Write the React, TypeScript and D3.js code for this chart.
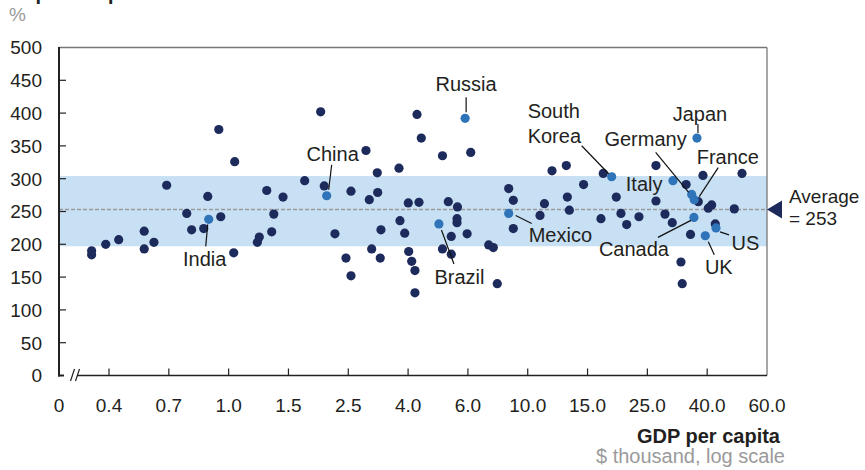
import React from "react";
import * as d3 from "d3";

// ---------- data ----------
const xTickValues = [0.4, 0.7, 1.0, 1.5, 2.5, 4.0, 6.0, 10.0, 15.0, 25.0, 40.0, 60.0];
const xTickLabels = ["0.4", "0.7", "1.0", "1.5", "2.5", "4.0", "6.0", "10.0", "15.0", "25.0", "40.0", "60.0"];
const yTickValues = [0, 50, 100, 150, 200, 250, 300, 350, 400, 450, 500];

// other countries: GDP per capita ($ thousand) and ratio (%)
const otherGdp = [
  0.34, 0.34, 0.388, 0.438, 0.556, 0.556, 0.609, 0.686, 0.779, 0.802, 0.862, 0.883, 0.954, 0.943, 1.042, 1.035,
  1.215, 1.231, 1.295, 1.339, 1.358, 1.446,
  1.723, 1.975, 2.036, 2.231, 2.451,
  2.554, 2.554, 2.873, 2.949, 3.005, 3.14, 3.15, 3.214, 3.232, 3.724, 3.753, 3.895,
  4.005, 4.016, 4.099, 4.19, 4.19, 4.249, 4.307, 4.374,
  5.05, 5.05, 5.253, 5.36, 5.36, 5.573, 5.573, 5.59, 5.968,
  6.146, 7.166, 7.454, 7.71, 8.5, 8.84, 8.84,
  10.87, 11.2, 11.79, 12.99, 13.08, 13.26, 14.6,
  16.82, 17.15, 19.17, 19.95, 20.95, 23.27,
  26.75, 26.75, 28.71, 30.4, 32.55, 32.88, 33.9, 35.09, 37.3, 38.7,
  40.3, 41.24, 42.26, 48.07, 50.65,
];
const otherRatio = [
  190, 184, 200, 207, 220, 193, 203, 290, 247, 222, 224, 273, 242, 375, 326, 187,
  203, 211, 282, 219, 246, 272,
  297, 402, 289, 216, 179,
  281, 152, 343, 268, 193, 309, 279, 179, 222, 316, 236, 217,
  263, 189, 174, 160, 126, 398, 264, 362,
  335, 193, 265, 212, 185, 239, 233, 257, 216,
  340, 199, 195, 140, 285, 267, 224,
  244, 262, 312, 320, 272, 252, 291,
  239, 308, 272, 247, 230, 242,
  320, 266, 246, 233, 173, 140, 291, 215, 265, 305,
  255, 260, 231, 254, 308,
];

// highlighted countries
const keyNames = ["India", "China", "Russia", "Brazil", "Mexico", "South Korea", "Italy", "Germany", "France", "Japan", "Canada", "UK", "US"];
const keyGdp = [0.888, 2.079, 5.888, 4.93, 8.5, 18.43, 30.57, 35.41, 36.13, 36.91, 36.05, 39.41, 42.46];
const keyRatio = [238, 274, 392, 231, 247, 303, 297, 276, 268, 362, 241, 213, 225];

const average = 253;
const bandLow = 197;
const bandHigh = 304;

// ---------- layout / styles ----------
const W = 865;
const H = 470;
const left = 59;
const right = 767;
const top = 47.5;
const bottom = 375.5;
const firstTick = 109;
const FONT = "'Liberation Sans', Arial, Helvetica, sans-serif";
const DARK = "#1c2a5c";
const BLUE = "#2f73b8";
const BAND = "#c8e0f4";
const TEXT = "#231f20";
const GREY = "#9a9a9a";

// label placement relative to each highlighted dot: [textDx, textDy, anchor, leader(x1,y1,x2,y2) or null]
type Ann = { dx: number; dy: number; anchor: string; lines?: string[]; leader: number[] | null };
const annotations: Record<string, Ann> = {
  India: { dx: -4, dy: 47, anchor: "middle", leader: [-1, 5, -3, 27] },
  China: { dx: 6, dy: -35, anchor: "middle", leader: [5, -31, 2, -6] },
  Russia: { dx: 1, dy: -27, anchor: "middle", leader: [1, -21, 1, -6] },
  Brazil: { dx: 20.5, dy: 60, anchor: "middle", leader: [2.5, 6, 15, 40] },
  Mexico: { dx: 20, dy: 29, anchor: "start", leader: [7, 2, 23, 10] },
  "South Korea": { dx: -84, dy: -59, anchor: "start", lines: ["South", "Korea"], leader: [-30, -31, -3, -3] },
  Italy: { dx: -10.5, dy: 10.5, anchor: "end", leader: null },
  Germany: { dx: -5, dy: -48, anchor: "end", leader: [-36, -42, -3, -2] },
  France: { dx: 2.5, dy: -35.5, anchor: "start", leader: [24, -32, 5, -3] },
  Japan: { dx: 3, dy: -17, anchor: "middle", leader: [1, -14, 1, -5] },
  Canada: { dx: -25, dy: 39, anchor: "end", leader: [-36, 20, -3, 3] },
  UK: { dx: 13.5, dy: 38, anchor: "middle", leader: [3, 6, 9, 19] },
  US: { dx: 15.5, dy: 22, anchor: "start", leader: [4, 4, 13, 7] },
};

export default function App() {
  const x = d3
    .scaleLog()
    .domain(xTickValues)
    .range(xTickValues.map((_, i) => firstTick + (i * (right - firstTick)) / (xTickValues.length - 1)));
  const y = d3.scaleLinear().domain([0, 500]).range([bottom, top]);

  const others = otherGdp.map((g, i) => ({ g, r: otherRatio[i] }));
  const keys = keyNames.map((n, i) => ({ n, g: keyGdp[i], r: keyRatio[i] }));

  return (
    <svg
      width={W}
      height={H}
      style={{ position: "absolute", left: 0, top: 0, fontFamily: FONT }}
    >
      <rect x={0} y={0} width={W} height={H} fill="#fff" />
      {/* clipped title */}
      <text x={10} y={-0.5} fontSize={20} fontWeight="bold" fill={TEXT}>
        Capital requirement ratio
      </text>
      <text x={9} y={21} fontSize={19} fill={GREY}>
        %
      </text>

      {/* band and average */}
      <rect x={left} y={y(bandHigh)} width={right - left} height={y(bandLow) - y(bandHigh)} fill={BAND} />
      <line
        x1={left}
        x2={right}
        y1={y(average)}
        y2={y(average)}
        stroke={GREY}
        strokeWidth={1.5}
        strokeDasharray="4,2"
      />

      {/* frame (top / right) */}
      <line x1={left} x2={right} y1={top} y2={top} stroke="#777" strokeWidth={1.3} />
      <line x1={right} x2={right} y1={top} y2={bottom} stroke="#777" strokeWidth={1.3} />

      {/* y axis */}
      <line x1={left} x2={left} y1={top - 0.5} y2={bottom + 1} stroke="#222" strokeWidth={2} />
      {yTickValues.map((v) => (
        <g key={"y" + v}>
          {v > 0 && v < 500 && (
            <line x1={left} x2={left + 7} y1={y(v)} y2={y(v)} stroke="#222" strokeWidth={1.2} />
          )}
          <text x={42} y={y(v)} dy="0.36em" textAnchor="end" fontSize={19} fill={TEXT}>
            {v}
          </text>
        </g>
      ))}

      {/* x axis with break */}
      <line x1={left - 1} x2={64} y1={bottom} y2={bottom} stroke="#222" strokeWidth={2} />
      <line x1={77} x2={right} y1={bottom} y2={bottom} stroke="#222" strokeWidth={1.5} />
      <line x1={70.5} y1={381} x2={74.5} y2={369} stroke="#222" strokeWidth={1.2} />
      <line x1={75.5} y1={381} x2={79.5} y2={369} stroke="#222" strokeWidth={1.2} />
      <text x={left} y={411.5} textAnchor="middle" fontSize={19} fill={TEXT}>
        0
      </text>
      {xTickValues.map((v, i) => (
        <g key={"x" + v}>
          {i < xTickValues.length - 1 && (
            <line x1={x(v)} x2={x(v)} y1={bottom} y2={bottom - 7} stroke="#222" strokeWidth={1.2} />
          )}
          <text x={x(v)} y={411.5} textAnchor="middle" fontSize={19} fill={TEXT}>
            {xTickLabels[i]}
          </text>
        </g>
      ))}
      <text x={780} y={443} textAnchor="end" fontSize={20} fontWeight="bold" fill={TEXT}>
        GDP per capita
      </text>
      <text x={785} y={463} textAnchor="end" fontSize={20} fill={GREY}>
        $ thousand, log scale
      </text>

      {/* dots */}
      {others.map((d, i) => (
        <circle key={"o" + i} cx={x(d.g)} cy={y(d.r)} r={4.6} fill={DARK} />
      ))}
      {keys.map((d) => (
        <circle key={"k" + d.n} cx={x(d.g)} cy={y(d.r)} r={4.6} fill={BLUE} />
      ))}

      {/* annotations */}
      {keys.map((d) => {
        const a = annotations[d.n];
        const cx = x(d.g);
        const cy = y(d.r);
        const lines = a.lines || [d.n];
        return (
          <g key={"a" + d.n}>
            {a.leader && (
              <line
                x1={cx + a.leader[0]}
                y1={cy + a.leader[1]}
                x2={cx + a.leader[2]}
                y2={cy + a.leader[3]}
                stroke="#111"
                strokeWidth={1.2}
              />
            )}
            {lines.map((t, j) => (
              <text
                key={t}
                x={cx + a.dx}
                y={cy + a.dy + j * 25}
                textAnchor={a.anchor}
                fontSize={20}
                fill={TEXT}
              >
                {t}
              </text>
            ))}
          </g>
        );
      })}

      {/* average marker */}
      <path d={`M${right},${y(average)} L${right + 15},${y(average) - 9} L${right + 15},${y(average) + 9} Z`} fill={DARK} />
      <text x={789} y={203} fontSize={19} fill={TEXT}>
        Average
      </text>
      <text x={789} y={225} fontSize={19} fill={TEXT}>
        {`= ${average}`}
      </text>
    </svg>
  );
}
